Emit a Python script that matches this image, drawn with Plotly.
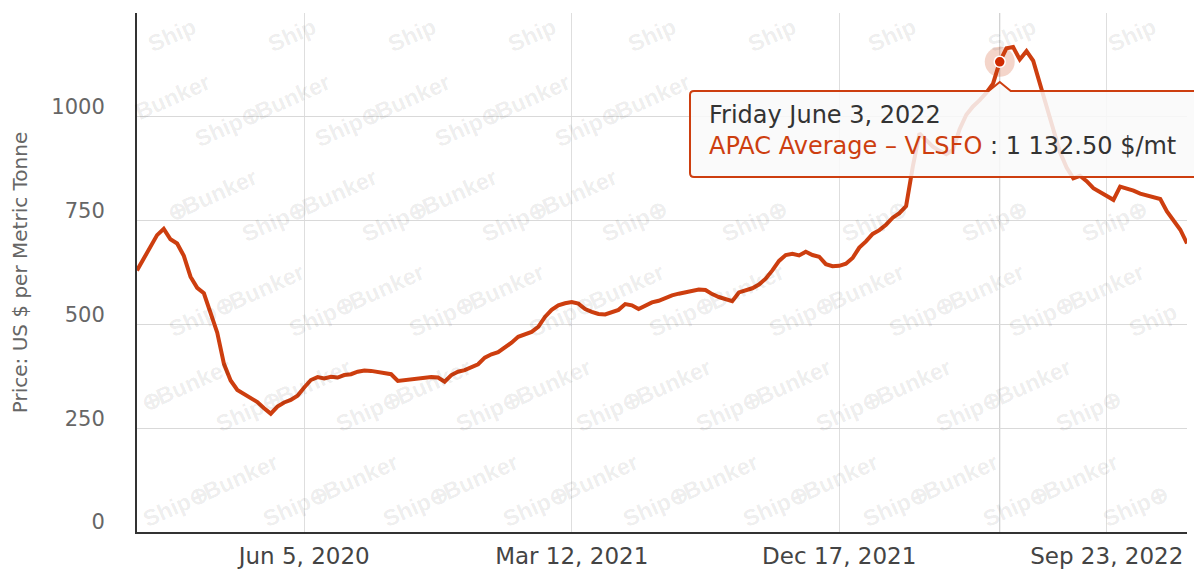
import plotly.graph_objects as go
import pandas as pd

# ---- data (weekly, Fridays) ----
start_date = "2019-12-13"
prices = [
    630, 660, 685, 715, 730, 705, 695, 665, 615, 588,
    575, 530, 480, 405, 365, 342, 332, 322, 313, 298,
    285, 302, 312, 318, 328, 348, 366, 373, 370, 374,
    372, 378, 380, 386, 389, 388, 386, 384, 380, 364,
    366, 368, 371, 373, 373, 372, 362, 378, 386, 390,
    398, 404, 420, 428, 433, 444, 456, 470, 476, 482,
    494, 518, 535, 546, 551, 554, 550, 537, 530, 525,
    524, 530, 535, 549, 546, 537, 545, 553, 557, 564,
    570, 574, 578, 582, 584, 583, 573, 566, 560, 556,
    577, 582, 587, 596, 610, 630, 653, 667, 670, 666,
    675, 667, 663, 645, 640, 641, 646, 660, 685, 700,
    718, 727, 740, 757, 768, 785, 880, 960, 945, 928,
    918, 910, 920, 970, 1005, 1025, 1040, 1058, 1080, 1132.5,
    1165, 1168, 1138, 1158, 1135, 1080, 1025, 965, 915, 878,
    852, 858, 845, 828, 818, 808, 800, 832, 828, 822,
    815, 810, 806, 802, 772, 750, 728, 695,
]
dates = pd.date_range(start_date, periods=len(prices), freq="7D")

series_name = "APAC Average – VLSFO"
y_title = "Price: US $ per Metric Tonne"
x_tickvals = ["2020-06-05", "2021-03-12", "2021-12-17", "2022-09-23"]
x_ticktext = ["Jun 5, 2020", "Mar 12, 2021", "Dec 17, 2021", "Sep 23, 2022"]
y_tickvals = [0, 250, 500, 750, 1000, 1250]
y_ticktext = ["0", "250", "500", "750", "1000", ""]

tooltip_date = "2022-06-03"
tooltip_title = "Friday June 3, 2022"
unit = "$/mt"

COLOR = "#cd3e0f"
FONT = "DejaVu Sans"

# ---- layout geometry (pixels) ----
OFF = 8  # page body margin
W, H = 1202 - OFF, 571 - OFF
PL, PT, PW, PH = 137, 13, 1050, 519          # plot area in screenshot pixels
ML, MT = PL - OFF, PT - OFF
MR = W - ML - PW
MB = H - MT - PH


def xp(px):
    return (px - PL) / PW


def yp(py):
    return (PT + PH - py) / PH


idx = list(dates).index(pd.Timestamp(tooltip_date))
tip_val = prices[idx]

fig = go.Figure()
fig.add_trace(go.Scatter(
    x=dates, y=prices, mode="lines", name=series_name,
    line=dict(color=COLOR, width=4), hoverinfo="skip",
))
# halo + highlighted point
fig.add_trace(go.Scatter(
    x=[dates[idx]], y=[tip_val], mode="markers",
    marker=dict(size=30, color=COLOR, opacity=0.22), hoverinfo="skip",
))
fig.add_trace(go.Scatter(
    x=[dates[idx]], y=[tip_val], mode="markers",
    marker=dict(size=11, color="#d02a00", line=dict(color="white", width=1.5)),
    hoverinfo="skip",
))

shapes = []
# crosshair
shapes.append(dict(type="line", xref="x", yref="paper", x0=dates[idx], x1=dates[idx],
                   y0=0, y1=1, line=dict(color="#c4c4c4", width=1), layer="below"))

# tooltip box with pointer
apx = (dates[idx] - dates[0]) / (dates[-1] - dates[0])
apx_px = PL + apx * PW
L_, R_, T_, B_ = 690, 1200, 91, 177
r = 4
pts_path = (
    f"M {xp(L_ + r)},{yp(T_)} "
    f"L {xp(apx_px - 11)},{yp(T_)} L {xp(apx_px)},{yp(T_ - 9)} L {xp(apx_px + 11)},{yp(T_)} "
    f"L {xp(R_ - r)},{yp(T_)} Q {xp(R_)},{yp(T_)} {xp(R_)},{yp(T_ + r)} "
    f"L {xp(R_)},{yp(B_ - r)} Q {xp(R_)},{yp(B_)} {xp(R_ - r)},{yp(B_)} "
    f"L {xp(L_ + r)},{yp(B_)} Q {xp(L_)},{yp(B_)} {xp(L_)},{yp(B_ - r)} "
    f"L {xp(L_)},{yp(T_ + r)} Q {xp(L_)},{yp(T_)} {xp(L_ + r)},{yp(T_)} Z"
)
shapes.append(dict(type="path", xref="paper", yref="paper", path=pts_path,
                   fillcolor="rgba(249,249,249,0.86)", line=dict(color=COLOR, width=2),
                   layer="above"))

annotations = []
# watermark (faint)
pieces = [("Ship", 0, 0, 24), ("⊕", 31, -14, 8), ("Bunker", 73, -33, 38)]
for rr in range(-1, 7):
    for cc in range(-2, 11):
        sx = 172 + 47 * rr + 120 * cc
        sy = 35 + 95 * rr
        for txt, dx, dy, hw in pieces:
            px, py = sx + dx, sy + dy
            if not (PL + hw * 0.9 <= px <= PL + PW - hw * 0.9):
                continue
            if not (PT + 14 <= py <= PT + PH - 14):
                continue
            if (L_ - 20 <= px <= R_ + 20) and (T_ - 20 <= py <= B_ + 15):
                continue
            annotations.append(dict(
                x=xp(px), y=yp(py), xref="paper", yref="paper", text=txt,
                showarrow=False, textangle=-24, xanchor="center", yanchor="middle",
                font=dict(family="Liberation Sans", size=23, color="rgba(0,0,0,0.08)",
                          weight="bold"),
            ))

val_txt = f"{tip_val:,.2f}".replace(",", " ")
annotations.append(dict(
    x=xp(707), y=yp(131), xref="paper", yref="paper", xanchor="left", yanchor="middle",
    align="left", showarrow=False,
    text=(f"<span style='color:#333333'>{tooltip_title}</span><br>"
          f"<span style='color:{COLOR}'>{series_name}</span>"
          f"<span style='color:#333333'> : {val_txt} {unit}</span>"),
    font=dict(family=FONT, size=24, color="#333333"),
))

fig.update_layout(
    width=W, height=H,
    margin=dict(l=ML, r=MR, t=MT, b=MB, autoexpand=False),
    paper_bgcolor="white", plot_bgcolor="white",
    showlegend=False, hovermode=False,
    shapes=shapes, annotations=annotations,
    font=dict(family=FONT),
)
fig.update_xaxes(
    type="date", range=[dates[0], dates[-1]],
    tickvals=x_tickvals, ticktext=x_ticktext, ticks="",
    tickfont=dict(family=FONT, size=23, color="#444444"),
    ticklabelstandoff=2,
    showgrid=True, gridcolor="#dedede", gridwidth=1,
    showline=True, linecolor="#333333", linewidth=2, zeroline=False,
    automargin=False, fixedrange=True,
)
fig.update_yaxes(
    range=[0, 1250], tickvals=y_tickvals, ticktext=y_ticktext, ticks="",
    tickfont=dict(family=FONT, size=21, color="#666666"),
    ticklabelstandoff=26, ticklabelshift=-10,
    showgrid=True, gridcolor="#d9d9d9", gridwidth=1,
    showline=True, linecolor="#333333", linewidth=2, zeroline=False,
    title=dict(text=y_title, font=dict(family=FONT, size=20, color="#666666"), standoff=20),
    automargin=False, fixedrange=True,
)

fig.write_html("out.html")
